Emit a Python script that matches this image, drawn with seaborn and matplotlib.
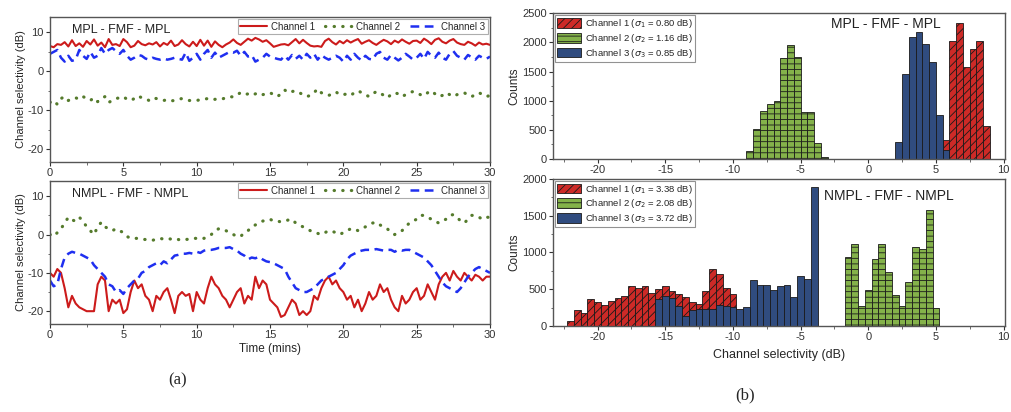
import numpy as np
import pandas as pd
import matplotlib.pyplot as plt
import seaborn as sns
from matplotlib.lines import Line2D
from matplotlib.patches import Patch

# ---- time series data (channel selectivity in dB, one value every 0.25 min) ----
time_mins = np.linspace(0, 30, 121)

mpl_ch1 = [6.5, 6.2, 7.0, 6.8, 7.5, 6.4, 8.0, 6.5, 7.2, 6.3, 7.8, 6.9, 8.2, 6.6, 7.4, 6.2, 8.3, 6.8, 7.0, 6.5,
           8.3, 7.5, 6.2, 6.6, 7.8, 7.0, 6.7, 7.2, 6.9, 7.5, 6.4, 7.3, 6.8, 7.9, 6.5, 6.9, 8.0, 7.0, 6.4, 7.6,
           6.5, 8.1, 6.6, 7.9, 6.3, 7.7, 6.8, 6.2, 6.9, 7.4, 8.2, 7.3, 6.8, 7.6, 8.4, 7.9, 8.6, 8.2, 7.6, 8.0,
           7.2, 6.3, 6.6, 6.9, 7.0, 6.7, 7.5, 8.3, 7.2, 8.1, 7.3, 6.6, 6.4, 6.5, 6.3, 7.8, 8.4, 7.5, 6.9, 7.8,
           7.2, 8.0, 7.4, 7.9, 8.3, 7.1, 7.6, 8.0, 7.3, 6.8, 7.5, 8.1, 7.7, 7.0, 7.9, 7.4, 8.2, 7.6, 7.1, 7.8,
           7.9, 7.3, 8.4, 7.8, 7.0, 8.1, 8.5, 7.6, 7.2, 7.9, 8.3, 7.4, 7.0, 6.8, 7.6, 7.2, 6.6, 7.4, 6.9, 7.1,
           6.8]
mpl_ch2 = [-8.0, -7.5, -8.5, -7.0, -6.5, -7.5, -7.0, -6.8, -7.2, -6.5, -7.0, -7.5, -6.8, -7.8, -7.0, -6.5, -8.0, -7.5, -7.0, -6.8,
           -6.5, -7.2, -7.5, -7.0, -6.3, -6.8, -7.0, -7.5, -6.8, -7.0, -7.2, -7.5, -7.3, -7.6, -7.5, -7.2, -7.0, -7.3, -7.5, -7.5,
           -7.5, -7.3, -7.2, -7.0, -7.3, -7.2, -7.0, -7.1, -6.8, -6.5, -6.6, -6.0, -5.5, -6.0, -5.8, -6.2, -5.8, -5.5, -6.0, -5.8,
           -5.5, -6.0, -6.5, -5.8, -4.8, -5.5, -5.2, -5.0, -5.5, -6.0, -6.5, -6.2, -5.5, -4.5, -5.5, -6.0, -6.2, -5.8, -5.3, -6.0,
           -6.0, -5.8, -6.2, -5.5, -5.0, -5.5, -6.0, -6.5, -5.8, -5.2, -5.5, -6.2, -6.8, -6.0, -5.5, -5.8, -6.5, -6.0, -5.5, -5.2,
           -5.5, -6.0, -6.3, -5.5, -5.0, -5.8, -6.5, -6.2, -5.5, -6.0, -6.5, -6.0, -5.8, -5.5, -6.2, -6.5, -6.0, -5.5, -6.0, -6.5,
           -6.2]
mpl_ch3 = [4.5, 5.0, 5.5, 3.5, 2.5, 4.0, 2.7, 3.0, 5.5, 4.0, 3.2, 5.0, 3.5, 4.0, 6.0, 4.5, 5.5, 6.0, 5.2, 4.5,
           5.5, 4.0, 3.0, 3.5, 4.2, 4.0, 3.3, 3.0, 3.5, 3.2, 3.0, 3.3, 3.0, 3.2, 3.5, 3.2, 3.0, 4.8, 2.7, 3.5,
           4.5, 3.0, 4.5, 5.5, 3.5, 4.8, 3.5, 4.0, 4.5, 5.0, 4.8, 5.3, 4.0, 5.0, 3.8, 4.2, 2.5, 3.0, 3.5, 4.5,
           3.8, 3.5, 3.2, 3.0, 4.0, 3.0, 4.2, 3.2, 4.0, 3.0, 4.5, 3.5, 4.5, 3.0, 4.2, 3.5, 3.0, 3.5, 4.0, 3.5,
           2.5, 4.0, 3.0, 4.5, 3.5, 2.8, 4.0, 3.2, 3.0, 4.5, 5.0, 3.5, 3.0, 4.2, 3.5, 2.8, 3.5, 4.5, 3.8, 3.0,
           3.5, 4.5, 3.2, 5.0, 4.0, 3.5, 4.8, 3.5, 3.0, 4.5, 5.2, 4.0, 3.5, 3.0, 4.2, 3.6, 3.0, 4.0, 3.5, 3.2,
           3.8]

nmpl_ch1 = [-10, -11, -9, -10, -14, -19, -16, -18, -19, -19.5, -20, -20, -20, -13, -11, -12, -20, -17, -18, -17,
            -20.5, -19.5, -15, -12, -14, -13, -16, -17, -20, -16, -17, -15, -14, -17, -20.5, -16, -15, -16, -15.5, -20,
            -15, -17, -18, -14, -11, -13, -14, -16, -17, -19, -17, -15, -14, -18, -16, -17, -11, -14, -12, -13,
            -17, -18, -19, -21.5, -21, -19, -17, -18, -21, -20, -21, -20, -16, -17, -14, -12, -11, -13, -12, -14,
            -15, -17, -16, -19, -17, -20, -18, -15, -17, -16, -13, -15, -14, -17, -19, -20, -16, -18, -17, -15,
            -14, -17, -16, -13, -15, -17, -13, -11, -10, -12, -9.5, -11, -12, -10, -11, -12, -10.5, -11, -12, -11,
            -11]
nmpl_ch2 = [0, -0.5, 0.5, 1.5, 3, 4.5, 3.8, 3.5, 4.5, 3.5, 2, 1, 0, 2, 3.2, 2, 1.5, 1, 1.5, 1,
            0.5, -0.5, -1, -1, -1, -1.2, -1.3, -1.5, -1.5, -1.2, -1, -1.2, -1, -1.2, -1.5, -1.3, -1.5, -1.3, -1.2, -1,
            -1, -0.8, -1, -0.5, 0, 1, 1.5, 1, 1, 0.5, 0, -0.5, -0.5, 0.5, 1, 2, 2.5, 3, 3.5, 3.8,
            4, 3.5, 3.5, 3.3, 3.5, 3.8, 4, 3, 2.5, 2, 1.5, 1, 0.5, 0.3, 0, 0.5, 1, 0.8, 0.5, 0,
            0.5, 1, 1.5, 1.5, 1, 1.5, 2, 2.5, 3, 3.2, 2.5, 2, 1.5, 0.5, 0, 0.5, 1, 2, 3, 3.5,
            4, 5, 5, 4.5, 4, 3.5, 3, 3.5, 4, 5, 5.2, 4.5, 3.5, 3, 4, 5, 5, 4.5, 4, 4.5,
            4.5]
nmpl_ch3 = [-12, -13.5, -13, -9, -6, -5, -4.5, -4.8, -5, -5.5, -6, -6.5, -8, -9, -10, -11, -13, -13.5, -15, -14.5,
            -15.5, -14, -13, -12, -11.5, -10, -9.5, -8.5, -8, -7.5, -8, -7, -7.5, -6.5, -5.5, -5.3, -5, -5, -4.8, -5,
            -4.5, -4.8, -4.2, -4, -4, -3.8, -3.5, -3.5, -3.5, -3.3, -3.8, -4.2, -5, -5.5, -6.5, -6, -6.2, -5.8, -6.5, -7,
            -7.2, -7.5, -8, -8.5, -9, -11, -12.5, -14, -14.5, -15, -15, -14.5, -14, -13, -12, -11.5, -11, -10.5, -10, -9,
            -8, -6.5, -5.5, -5, -4.5, -4.2, -4, -4, -4, -3.8, -4, -4.2, -4, -4, -4.5, -4, -4.2, -4, -4, -4.5,
            -5, -5.5, -6, -7, -8, -9.5, -11, -12.5, -13.5, -14, -14.5, -15, -14, -12.5, -11, -10, -9, -8.5, -9, -9.5,
            -10]

# ---- histogram data (0.5 dB bins, first bin left edge + counts) ----
bin_width = 0.5
mpl_h1_start, mpl_h1 = 5.5, [330, 2020, 2340, 1570, 1880, 2020, 570]
mpl_h2_start, mpl_h2 = -9.0, [130, 514, 822, 942, 993, 1735, 1963, 1747, 810, 810, 280, 35]
mpl_h3_start, mpl_h3 = 2.0, [290, 1450, 2100, 2170, 1970, 1670, 750, 150]

nmpl_h1_start = -22.25
nmpl_h1 = [70, 220, 180, 360, 330, 290, 340, 380, 410, 540, 510, 540, 450, 500, 540, 470, 440, 390, 330, 300,
           480, 770, 710, 510, 440]
nmpl_h2_start = -1.75
nmpl_h2 = [940, 1110, 270, 490, 910, 1120, 730, 420, 270, 600, 1070, 1050, 1580, 250]
nmpl_h3_start = -15.75
nmpl_h3 = [370, 400, 380, 270, 140, 220, 230, 230, 230, 280, 270, 260, 230, 260, 630, 560, 550, 490, 540, 550,
           390, 680, 640, 1890]

mpl_sigma = ['0.80', '1.16', '0.85']
nmpl_sigma = ['3.38', '2.08', '3.72']
channel_names = ['Channel 1', 'Channel 2', 'Channel 3']

# colours
line_colors = ['#cc1b1b', '#557b2c', '#1f2ff0']
bar_colors = ['#cd2a27', '#84b24a', '#304c7f']
bar_hatches = ['////', '---', '']

sns.set_theme(style='ticks')
plt.rcParams['font.family'] = ['Liberation Sans', 'DejaVu Sans']
plt.rcParams['axes.unicode_minus'] = False
plt.rcParams['hatch.linewidth'] = 0.6
plt.rcParams['hatch.color'] = '#1a1a1a'

fig = plt.figure(figsize=(10.12, 4.12), dpi=100)
ax_ts_top = fig.add_axes([0.0494, 0.607, 0.4348, 0.352])
ax_ts_bot = fig.add_axes([0.0494, 0.214, 0.4348, 0.347])
ax_h_top = fig.add_axes([0.5464, 0.614, 0.4466, 0.354])
ax_h_bot = fig.add_axes([0.5464, 0.209, 0.4466, 0.357])


def style_axis(ax):
    for sp in ax.spines.values():
        sp.set_visible(True)
        sp.set_color('#555555')
        sp.set_linewidth(1.0)
    ax.tick_params(which='major', direction='out', length=3, width=0.8, labelsize=8,
                   colors='#333333', pad=1.5)
    ax.tick_params(which='minor', direction='out', length=1.8, width=0.6, colors='#555555')
    ax.minorticks_on()


def time_panel(ax, ch1, ch2, ch3, title):
    sns.lineplot(x=time_mins, y=ch1, ax=ax, color=line_colors[0], linewidth=1.5)
    sns.lineplot(x=time_mins, y=ch2, ax=ax, color=line_colors[1], linewidth=2.3,
                 linestyle=(0, (0.1, 2.6)), dash_capstyle='round')
    sns.lineplot(x=time_mins, y=ch3, ax=ax, color=line_colors[2], linewidth=1.8,
                 linestyle=(0, (3.5, 2.2)))
    ax.set_xlim(0, 30)
    ax.set_ylim(-23.3, 14)
    ax.set_xticks([0, 5, 10, 15, 20, 25, 30])
    ax.set_yticks([-20, -10, 0, 10])
    ax.set_ylabel('Channel selectivity (dB)', fontsize=8, labelpad=1)
    style_axis(ax)
    ax.xaxis.set_minor_locator(plt.MultipleLocator(2.5))
    ax.yaxis.set_minor_locator(plt.MultipleLocator(5))
    ax.text(0.05, 0.91, title, transform=ax.transAxes, fontsize=9, va='center', color='#222222')
    handles = [Line2D([], [], color=line_colors[0], linewidth=1.5),
               Line2D([], [], color=line_colors[1], linewidth=2.3, linestyle=(0, (0.1, 2.6)),
                      dash_capstyle='round'),
               Line2D([], [], color=line_colors[2], linewidth=1.8, linestyle=(0, (3.5, 2.2)))]
    leg = ax.legend(handles, channel_names, loc='upper right', ncol=3, fontsize=7,
                    frameon=True, fancybox=False, handlelength=2.8, columnspacing=1.0,
                    handletextpad=0.4, borderpad=0.25, borderaxespad=0.25)
    leg.get_frame().set_edgecolor('#999999')
    leg.get_frame().set_linewidth(0.8)


def hist_panel(ax, starts, counts, sigmas, title, title_xy, ymax):
    for i in range(3):
        n = len(counts[i])
        centers = starts[i] + bin_width * (np.arange(n) + 0.5)
        df = pd.DataFrame({'dB': centers, 'count': counts[i]})
        sns.histplot(data=df, x='dB', weights='count', binwidth=bin_width,
                     binrange=(starts[i], starts[i] + n * bin_width), ax=ax,
                     color=bar_colors[i], edgecolor='#1a1a1a', linewidth=0.6,
                     hatch=bar_hatches[i], alpha=1)
    ax.set_xlim(-23.3, 10.1)
    ax.set_ylim(0, ymax)
    ax.set_xticks([-20, -15, -10, -5, 0, 5, 10])
    ax.set_ylabel('Counts', fontsize=8.5, labelpad=1)
    style_axis(ax)
    ax.xaxis.set_minor_locator(plt.MultipleLocator(2.5))
    ax.yaxis.set_minor_locator(plt.MultipleLocator(250))
    ax.text(title_xy[0], title_xy[1], title, transform=ax.transAxes, fontsize=10,
            va='center', color='#222222')
    handles = [Patch(facecolor=bar_colors[i], edgecolor='#1a1a1a', hatch=bar_hatches[i], linewidth=0.6)
               for i in range(3)]
    labels = [f'Channel {i + 1} ($\\sigma_{i + 1}$ = {sigmas[i]} dB)' for i in range(3)]
    leg = ax.legend(handles, labels, loc='upper left', fontsize=6.8, frameon=True, fancybox=False,
                    handlelength=2.6, handleheight=1.2, handletextpad=0.4, labelspacing=0.2,
                    borderpad=0.2, borderaxespad=0.2)
    leg.get_frame().set_edgecolor('#777777')
    leg.get_frame().set_linewidth(0.8)


time_panel(ax_ts_top, mpl_ch1, mpl_ch2, mpl_ch3, 'MPL - FMF - MPL')
time_panel(ax_ts_bot, nmpl_ch1, nmpl_ch2, nmpl_ch3, 'NMPL - FMF - NMPL')
ax_ts_bot.set_xlabel('Time (mins)', fontsize=8.5, labelpad=2)

hist_panel(ax_h_top, [mpl_h1_start, mpl_h2_start, mpl_h3_start], [mpl_h1, mpl_h2, mpl_h3],
           mpl_sigma, 'MPL - FMF - MPL', (0.615, 0.925), 2500)
ax_h_top.set_yticks([0, 500, 1000, 1500, 2000, 2500])
hist_panel(ax_h_bot, [nmpl_h1_start, nmpl_h2_start, nmpl_h3_start], [nmpl_h1, nmpl_h2, nmpl_h3],
           nmpl_sigma, 'NMPL - FMF - NMPL', (0.6, 0.88), 2000)
ax_h_bot.set_yticks([0, 500, 1000, 1500, 2000])
ax_h_bot.set_xlabel('Channel selectivity (dB)', fontsize=9, labelpad=5)

fig.text(178 / 1012, 1 - 380 / 412, '(a)', family='Liberation Serif', fontsize=12,
         ha='center', va='center')
fig.text(745 / 1012, 1 - 395 / 412, '(b)', family='Liberation Serif', fontsize=12,
         ha='center', va='center')

fig.savefig('out.png', dpi=100)
